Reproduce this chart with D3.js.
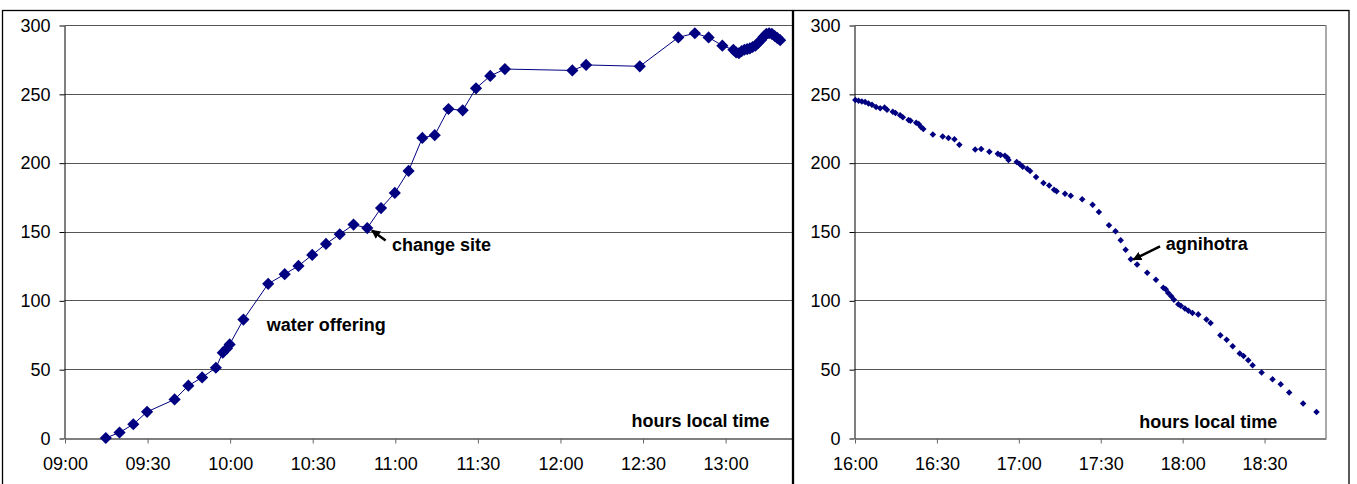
<!DOCTYPE html>
<html>
<head>
<meta charset="utf-8">
<script src="https://cdn.jsdelivr.net/npm/d3@7"></script>
<style>
  html, body { margin: 0; padding: 0; background: #fff; }
  svg { display: block; font-family: "Liberation Sans", Arial, sans-serif; }
</style>
</head>
<body>
<svg id="chart" width="1357" height="484"></svg>
<script>
// Morning run: readings with local clock time
const morningTimes = [
  "09:15:00","09:20:00","09:25:00","09:30:00","09:40:00","09:45:00","09:50:00","09:55:00",
  "09:57:30","09:59:00","10:00:00","10:05:00","10:14:00","10:20:00","10:25:00","10:30:00",
  "10:35:00","10:40:00","10:45:00","10:50:00","10:55:00","11:00:00","11:05:00","11:10:00",
  "11:14:30","11:19:30","11:24:40","11:29:30","11:34:40","11:40:00","12:04:30","12:09:30",
  "12:29:00","12:43:00","12:49:00","12:54:00","12:59:00","13:03:00","13:04:00","13:05:00",
  "13:06:00","13:07:00","13:08:00","13:09:00","13:10:00","13:11:00","13:12:00","13:13:00",
  "13:14:00","13:15:00","13:16:00","13:17:00","13:18:00","13:19:00","13:20:00"
];
const morningValues = [
  0, 4, 10, 19, 28, 38, 44, 51,
  62, 65, 68, 86, 112, 119, 125, 133,
  141, 148, 155, 152.5, 167, 178, 194, 218,
  220, 239, 238, 254, 263, 268, 267, 271,
  270, 291, 294, 291, 285, 282, 280, 279.5,
  281, 282, 282.5, 283, 284, 285, 287, 289,
  291.5, 293.5, 294, 293.5, 292, 290.5, 289
];

// Evening run
const eveningTimes = [
  "16:00:18","16:01:30","16:02:42","16:03:54","16:05:06","16:06:24","16:07:54","16:09:24",
  "16:11:00","16:11:54","16:14:00","16:15:00","16:16:42","16:17:42","16:19:48","16:20:30",
  "16:22:36","16:23:30","16:24:18","16:25:12","16:28:42","16:32:18","16:34:24","16:36:36",
  "16:38:24","16:44:12","16:46:24","16:49:24","16:52:30","16:53:30","16:55:06","16:56:00",
  "16:56:24","16:59:24","17:00:30","17:01:36","17:03:18","17:04:18","17:06:30","17:09:12",
  "17:11:18","17:13:06","17:14:00","17:17:06","17:19:12","17:23:24","17:27:12","17:29:30",
  "17:33:12","17:35:36","17:37:30","17:39:18","17:41:12","17:43:30","17:47:12","17:50:24",
  "17:53:06","17:54:00","17:54:54","17:56:00","17:57:00","17:58:36","17:59:30","18:01:00",
  "18:02:18","18:03:48","18:05:54","18:08:54","18:10:24","18:14:00","18:16:18","18:18:30",
  "18:21:06","18:22:30","18:24:12","18:25:48","18:29:06","18:33:06","18:36:06","18:39:12",
  "18:44:18","18:49:12"
];
const eveningValues = [
  245.5, 245, 244.5, 244, 243, 242, 240.5, 239.5,
  240, 238.5, 237, 236, 234.5, 233, 231, 230.5,
  229, 228, 226, 224.5, 220.5, 219, 218, 217,
  213, 209.5, 210, 208, 206.5, 205.5, 205, 203.5,
  202, 200.5, 199, 197, 195.5, 194, 189.5, 185.2,
  183.5, 180.4, 179.2, 177.5, 176, 173.4, 169.5, 164.1,
  154.5, 150.1, 143.6, 136.8, 129.8, 126.1, 120.1, 115,
  109.2, 108, 105.3, 103, 100.5, 97.1, 96, 94,
  92.5, 90.8, 89.8, 86, 83.5, 74.6, 71.4, 66.6,
  61.3, 59.5, 56.4, 52.8, 47.5, 42.6, 39, 33,
  25, 18.9
];

const morningTicks = ["09:00","09:30","10:00","10:30","11:00","11:30","12:00","12:30","13:00"];
const eveningTicks = ["16:00","16:30","17:00","17:30","18:00","18:30"];
const yTicks = [0, 50, 100, 150, 200, 250, 300];

const axisTitle = "hours local time";
const morningNotes = [
  { text: "change site", time: "10:59:00", value: 135.6, tip: ["10:51:40", 150.8], tail: ["10:56:40", 143.4] },
  { text: "water offering", time: "10:13:30", value: 77.7 },
  { text: axisTitle, time: "12:26:00", value: 8 }
];
const eveningNotes = [
  { text: "agnihotra", time: "17:54:00", value: 136.8, tip: ["17:42:06", 129.6], tail: ["17:51:54", 139.2] },
  { text: axisTitle, time: "17:44:18", value: 7.5 }
];

// "HH:MM[:SS]" -> minutes since midnight
const toMin = s => { const p = s.split(":").map(Number); return p[0] * 60 + p[1] + (p[2] || 0) / 60; };

const svg = d3.select("#chart");
const FONT = 18;

const defs = svg.append("defs");
defs.append("marker")
  .attr("id", "arrowhead")
  .attr("viewBox", "0 0 10 10")
  .attr("refX", 9).attr("refY", 5)
  .attr("markerWidth", 3.6).attr("markerHeight", 3.6)
  .attr("markerUnits", "strokeWidth")
  .attr("orient", "auto")
  .append("path").attr("d", "M0,0 L10,5 L0,10 Z").attr("fill", "#000");

const y = d3.scaleLinear().domain([0, 300]).range([438, 25]);

const panels = [
  { frame: [2.5, 10.5, 790, 520], x0: 64.5, x1: 792, domain: ["09:00", "13:24:18"],
    times: morningTimes, values: morningValues, ticks: morningTicks, notes: morningNotes,
    line: true, marker: 8.6, rightBorder: false },
  { frame: [793.5, 10.5, 555.5, 520], x0: 854.5, x1: 1325.5, domain: ["16:00", "18:52:30"],
    times: eveningTimes, values: eveningValues, ticks: eveningTicks, notes: eveningNotes,
    line: false, marker: 4.6, rightBorder: true }
];

panels.forEach(p => {
  const x = d3.scaleLinear().domain(p.domain.map(toMin)).range([p.x0, p.x1]);
  const g = svg.append("g");

  // outer chart frame
  g.append("rect")
    .attr("x", p.frame[0]).attr("y", p.frame[1])
    .attr("width", p.frame[2]).attr("height", p.frame[3])
    .attr("fill", "none").attr("stroke", "#000").attr("stroke-width", 1.3);

  // horizontal gridlines
  g.append("g").selectAll("line")
    .data(yTicks.filter(v => v > 0))
    .join("line")
    .attr("x1", p.x0).attr("x2", p.x1)
    .attr("y1", d => Math.round(y(d)) + 0.5).attr("y2", d => Math.round(y(d)) + 0.5)
    .attr("stroke", "#555").attr("stroke-width", 1);

  if (p.rightBorder) {
    g.append("line")
      .attr("x1", p.x1 + 0.5).attr("x2", p.x1 + 0.5)
      .attr("y1", y(300)).attr("y2", y(0))
      .attr("stroke", "#555").attr("stroke-width", 1);
  }

  // y axis
  const ya = g.append("g")
    .attr("transform", `translate(${p.x0},0.5)`)
    .call(d3.axisLeft(y).tickValues(yTicks).tickSize(5).tickSizeOuter(0).tickPadding(9));
  ya.select(".domain").attr("stroke", "#000");
  ya.selectAll(".tick line").attr("stroke", "#000");
  ya.selectAll("text").attr("font-size", FONT).attr("font-family", "Liberation Sans, Arial, sans-serif").attr("fill", "#000");

  // x axis
  const tickVals = p.ticks.map(toMin);
  const xa = g.append("g")
    .attr("transform", `translate(0.5,${Math.round(y(0)) + 0.5})`)
    .call(d3.axisBottom(x).tickValues(tickVals)
      .tickFormat((d, i) => p.ticks[i]).tickSize(5).tickSizeOuter(0).tickPadding(14));
  xa.select(".domain").attr("stroke", "#000");
  xa.selectAll(".tick line").attr("stroke", "#666");
  xa.selectAll("text").attr("font-size", FONT).attr("font-family", "Liberation Sans, Arial, sans-serif").attr("fill", "#000");

  const pts = p.times.map((t, i) => ({ t: toMin(t), v: p.values[i] }));

  if (p.line) {
    g.append("path")
      .datum(pts)
      .attr("fill", "none").attr("stroke", "#000080").attr("stroke-width", 1)
      .attr("d", d3.line().x(d => x(d.t)).y(d => y(d.v)));
  }

  // diamond markers
  const side = p.marker;
  g.append("g").selectAll("rect")
    .data(pts)
    .join("rect")
    .attr("x", -side / 2).attr("y", -side / 2)
    .attr("width", side).attr("height", side)
    .attr("fill", "#000080")
    .attr("transform", d => `translate(${x(d.t)},${y(d.v)}) rotate(45)`);

  // annotations
  p.notes.forEach(n => {
    g.append("text")
      .attr("x", x(toMin(n.time))).attr("y", y(n.value))
      .attr("font-size", FONT).attr("font-weight", "bold").attr("fill", "#000")
      .text(n.text);
    if (n.tip) {
      g.append("line")
        .attr("x1", x(toMin(n.tail[0]))).attr("y1", y(n.tail[1]))
        .attr("x2", x(toMin(n.tip[0]))).attr("y2", y(n.tip[1]))
        .attr("stroke", "#000").attr("stroke-width", 2.5)
        .attr("marker-end", "url(#arrowhead)");
    }
  });
});
</script>
</body>
</html>
